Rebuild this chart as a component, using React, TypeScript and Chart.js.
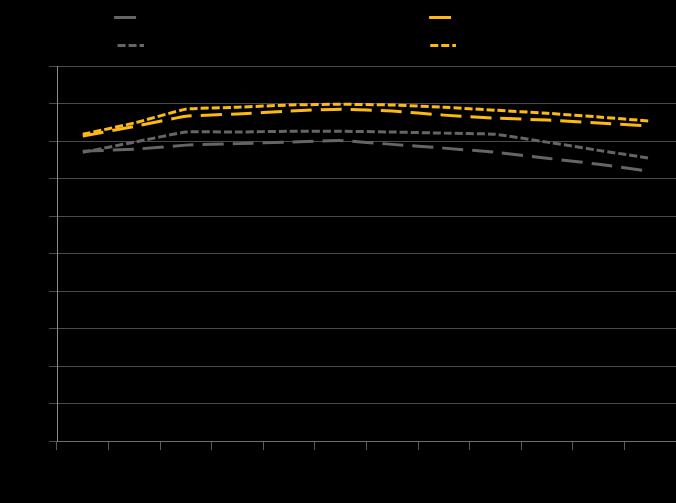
import React, { useEffect, useRef } from "react";
import { Chart, registerables } from "chart.js";

Chart.register(...registerables);

const categories = ["Jan", "Feb", "Mar", "Apr", "May", "Jun", "Jul", "Aug", "Sep", "Oct", "Nov", "Dec"];
const yTickValues = [0, 10, 20, 30, 40, 50, 60, 70, 80, 90, 100];

const greyActual = [77.3, 77.8, 78.9, 79.3, 79.7, 80.1, 79.1, 78.1, 77.0, 75.4, 73.8, 71.9];
const yellowActual = [81.3, 83.9, 86.6, 87.2, 88.0, 88.5, 88.0, 86.9, 86.1, 85.6, 84.8, 84.0];
const greyTarget = [77.0, 79.7, 82.4, 82.4, 82.6, 82.6, 82.4, 82.1, 81.8, 79.7, 77.5, 75.4];
const yellowTarget = [81.8, 84.8, 88.5, 89.0, 89.6, 89.8, 89.6, 89.0, 88.2, 87.4, 86.4, 85.3];

const seriesLabels = [
  "Load factor 2019 – actual (%)",
  "2024 (act.)",
  "Load factor 2019 – target (%)",
  "2024 (tgt.)",
];

const GREY = "#656565";
const YELLOW = "#FDB913";
const LONG_DASH = [21, 9];
const SHORT_DASH = [8, 3];

function legendGlyph(color: string, dash: number[], len: number): HTMLCanvasElement {
  const c = document.createElement("canvas");
  c.width = 30;
  c.height = 3;
  const ctx = c.getContext("2d");
  if (ctx) {
    ctx.strokeStyle = color;
    ctx.lineWidth = 3;
    ctx.setLineDash(dash);
    ctx.beginPath();
    ctx.moveTo(4, 1.5);
    ctx.lineTo(4 + len, 1.5);
    ctx.stroke();
  }
  return c;
}

export default function App() {
  const ref = useRef<HTMLCanvasElement | null>(null);

  useEffect(() => {
    if (!ref.current) return;
    const glyphs = [
      legendGlyph(GREY, [], 22),
      legendGlyph(YELLOW, [], 22),
      legendGlyph(GREY, SHORT_DASH, 26),
      legendGlyph(YELLOW, SHORT_DASH, 26),
    ];
    const mk = (label: string, data: number[], color: string, dash: number[]) => ({
      label,
      data,
      borderColor: color,
      backgroundColor: color,
      borderWidth: 3,
      borderDash: dash,
      borderCapStyle: "butt" as const,
      pointRadius: 0,
      pointHoverRadius: 0,
      tension: 0.1,
      fill: false,
    });
    const chart = new Chart(ref.current, {
      type: "line",
      data: {
        labels: categories,
        datasets: [
          mk(seriesLabels[0], greyActual, GREY, LONG_DASH),
          mk(seriesLabels[1], yellowActual, YELLOW, LONG_DASH),
          mk(seriesLabels[2], greyTarget, GREY, SHORT_DASH),
          mk(seriesLabels[3], yellowTarget, YELLOW, SHORT_DASH),
        ],
      },
      options: {
        responsive: false,
        animation: false,
        layout: { padding: 0 },
        plugins: {
          legend: {
            position: "top",
            labels: {
              color: "#000000",
              font: { family: "Liberation Sans", size: 21 },
              usePointStyle: true,
              pointStyleWidth: 22,
              padding: 7,
              generateLabels: (ch: any) => {
                const items = Chart.defaults.plugins.legend.labels.generateLabels(ch);
                return items.map((it: any, i: number) => ({ ...it, pointStyle: glyphs[i] }));
              },
            },
          },
          tooltip: { enabled: false },
        },
        scales: {
          x: {
            offset: true,
            grid: {
              offset: true,
              drawOnChartArea: false,
              drawTicks: true,
              tickLength: 9,
              color: "#5a5a5a",
            },
            border: { color: "#6e6e6e", width: 1 },
            ticks: { color: "#000000", font: { family: "Liberation Sans", size: 12 } },
            afterFit: (s: any) => {
              s.height = 62;
            },
          },
          y: {
            min: 0,
            max: 100,
            afterBuildTicks: (s: any) => {
              s.ticks = yTickValues.map((v) => ({ value: v }));
            },
            grid: { color: "#4a4a4a", tickLength: 8 },
            border: { color: "#8a8a8a", width: 1 },
            ticks: { color: "#000000", font: { family: "Liberation Sans", size: 12 } },
            afterFit: (s: any) => {
              s.width = 57;
            },
          },
        },
      },
    });
    return () => chart.destroy();
  }, []);

  return (
    <div style={{ position: "fixed", inset: 0, background: "#000000" }}>
      <canvas ref={ref} width={676} height={503} style={{ display: "block" }} />
    </div>
  );
}
